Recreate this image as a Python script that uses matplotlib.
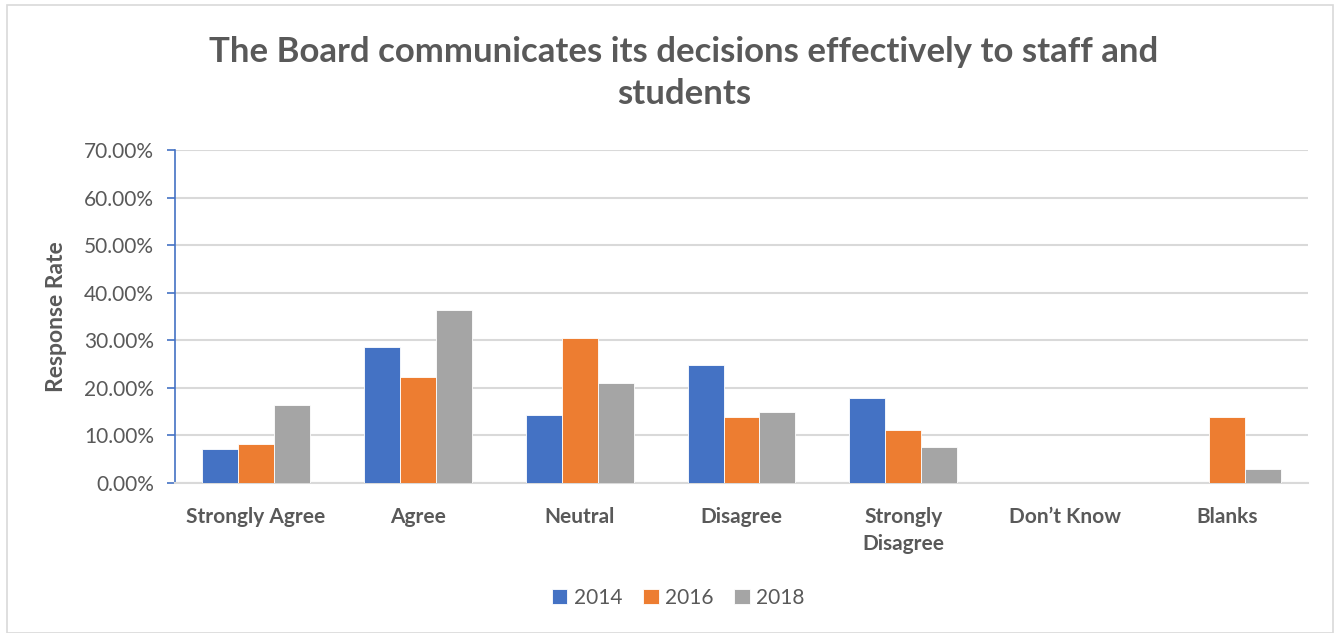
import matplotlib.pyplot as plt
import matplotlib.patches as patches
from matplotlib.ticker import FuncFormatter
import numpy as np

categories = ["Strongly Agree", "Agree", "Neutral", "Disagree",
              "Strongly\nDisagree", "Don\u2019t Know", "Blanks"]
years = ["2014", "2016", "2018"]
vals_2014 = [7.1, 28.6, 14.2, 24.9, 17.9, 0.0, 0.0]
vals_2016 = [8.3, 22.2, 30.5, 13.9, 11.1, 0.0, 13.9]
vals_2018 = [16.5, 36.3, 21.1, 15.0, 7.5, 0.0, 3.0]
series = [vals_2014, vals_2016, vals_2018]
colors = ["#4472C4", "#ED7D31", "#A5A5A5"]

plt.rcParams["font.family"] = ["Lato", "DejaVu Sans"]
text_col = "#595959"

fig = plt.figure(figsize=(13.4, 6.33), dpi=100)
W, H = 1340, 633
ax = fig.add_axes([175 / W, 1 - 483 / H, (1308 - 175) / W, (483 - 150) / H])

# outer chart border
fig.patches.append(patches.Rectangle((7 / W, 0), (1333 - 7) / W, 1 - 5 / H,
                                     transform=fig.transFigure, fill=False,
                                     edgecolor="#D9D9D9", lw=1.2))

x = np.arange(len(categories))
bw = 0.222
for i, (vals, c, yr) in enumerate(zip(series, colors, years)):
    ax.bar(x + (i - 1) * bw, vals, bw, color=c, label=yr,
           edgecolor="white", linewidth=0.6, zorder=3)

ax.set_xlim(-0.5, len(categories) - 0.5)
ax.set_ylim(0, 70)
ax.set_yticks(np.arange(0, 71, 10))
ax.yaxis.set_major_formatter(FuncFormatter(lambda v, p: f"{v:.2f}%"))
ax.grid(axis="y", color="#D9D9D9", lw=1.5, zorder=0)
ax.set_axisbelow(True)

for s in ["top", "right"]:
    ax.spines[s].set_visible(False)
ax.spines["left"].set_color("#4472C4")
ax.spines["left"].set_linewidth(1.2)
ax.spines["bottom"].set_color("#D9D9D9")
ax.spines["bottom"].set_linewidth(1.5)

ax.tick_params(axis="y", colors="#4472C4", length=6, width=1.2,
               labelcolor=text_col, labelsize=15, pad=9)
ax.tick_params(axis="x", length=0, labelcolor=text_col, labelsize=15, pad=17)
ax.set_xticks(x)
ax.set_xticklabels(categories, fontweight="bold", linespacing=1.45,
                   va="top")

ax.set_ylabel("Response Rate", fontsize=16.5, fontweight="bold",
              color=text_col, labelpad=12)

fig.text(684 / W, 1 - 73 / H,
         "The Board communicates its decisions effectively to staff and\nstudents",
         ha="center", va="center", fontsize=25, fontweight="bold",
         color=text_col, linespacing=1.4)

leg = fig.legend(loc="center", bbox_to_anchor=(678 / W, 1 - 598 / H),
                 ncol=3, frameon=False, fontsize=15, handlelength=0.75,
                 handleheight=0.75, handletextpad=0.3, columnspacing=1.0)
for t in leg.get_texts():
    t.set_color(text_col)

fig.savefig("out.png", dpi=100)
